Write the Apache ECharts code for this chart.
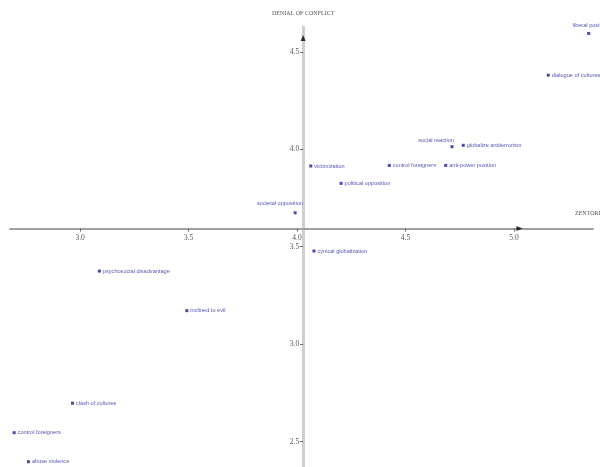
<!DOCTYPE html>
<html><head><meta charset="utf-8">
<script src="https://cdn.jsdelivr.net/npm/echarts@6/dist/echarts.min.js"></script>
<style>html,body{margin:0;padding:0;background:#fff}#c{width:600px;height:467px}</style>
</head><body><div id="c"></div>
<script>
// ---- data ----
const names = ['liberal position','dialogue of cultures','social reaction','globalize antiterrorism',
  'victimization','control foreigners','anti-power position','political opposition',
  'societal opposition','cynical globalization','psychosocial disadvantage','inclined to evil',
  'clash of cultures','control foreigners','abuse violence'];
const xVals = [5.344,5.158,4.714,4.766,4.063,4.425,4.685,4.203,3.991,4.078,3.089,3.492,2.965,2.696,2.762];
const yVals = [4.594,4.380,4.013,4.020,3.914,3.917,3.917,3.825,3.674,3.478,3.375,3.172,2.697,2.546,2.397];
const xTicks = [3.0,3.5,4.0,4.5,5.0];
const yTicks = [2.5,3.0,3.5,4.0,4.5];
const xCross = 4.028, yCross = 3.593;   // where the two axes cross
const xArrow = 5.025, yArrow = 4.57;    // arrow heads on the axes
const xTitle = 'ZENTORI';
const yTitle = 'DENIAL OF CONFLICT';

// ---- layout / style ----
const xMin = 2.677, xMax = 5.364, yMin = 2.370, yMax = 4.627;
const labelPlace = {
  0: {position:'top', align:'left', offset:[-16,-1]},
  2: {position:'top', align:'right', offset:[2,0]},
  8: {position:'top', align:'right', offset:[8,-3]}
};
const chart = echarts.init(document.getElementById('c'));
const tickFont = {fontFamily:'Liberation Serif', fontSize:7.5, color:'#555'};
function buildOption(xOff, yOff){
  return {
    animation:false,
    grid:{left:10,right:7,top:27,bottom:0,outerBoundsMode:'none',containLabel:false},
    xAxis:{type:'value',min:xMin,max:xMax,position:'bottom',offset:xOff,
      splitLine:{show:false},
      axisLine:{onZero:false,lineStyle:{color:'#a0a0a0',width:2}},
      axisTick:{customValues:xTicks,length:3,lineStyle:{color:'#666'}},
      axisLabel:Object.assign({customValues:xTicks,margin:5,formatter:v=>v.toFixed(1)},tickFont)
    },
    yAxis:{type:'value',min:yMin,max:yMax,position:'left',offset:yOff,
      splitLine:{show:false},
      name:yTitle,nameLocation:'end',nameGap:11,
      nameTextStyle:{fontFamily:'Liberation Serif',fontSize:6,color:'#555'},
      axisLine:{onZero:false,lineStyle:{color:'#cfcfcf',width:3}},
      axisTick:{customValues:yTicks,length:3,lineStyle:{color:'#666'}},
      axisLabel:Object.assign({customValues:yTicks,margin:4,formatter:v=>v.toFixed(1)},tickFont)
    },
    graphic:[{type:'text',left:575,top:210,style:{text:xTitle,font:'6px "Liberation Serif"',fill:'#555'}}],
    series:[
      {type:'scatter',symbol:'rect',symbolSize:3,itemStyle:{color:'#1c1c9c'},
        data:names.map((n,i)=>{
          const d={value:[xVals[i],yVals[i]],name:n};
          if(labelPlace[i]) d.label=labelPlace[i];
          return d;}),
        label:{show:true,position:'right',distance:2,formatter:p=>p.name,
          fontFamily:'Liberation Sans',fontSize:5.6,color:'#2b2b9e'},
        z:5
      },
      {type:'scatter',symbol:'triangle',symbolSize:[5,6],itemStyle:{color:'#000'},
        data:[{value:[xArrow,yCross],symbolRotate:-90},{value:[xCross,yArrow],symbolRotate:0}],z:6}
    ]
  };
}
chart.setOption(buildOption(0,0));
const p = chart.convertToPixel({gridIndex:0},[xCross,yCross]);
const r = chart.getModel().getComponent('grid',0).coordinateSystem.getRect();
chart.setOption(buildOption(p[1]-(r.y+r.height), r.x-p[0]));
</script></body></html>
